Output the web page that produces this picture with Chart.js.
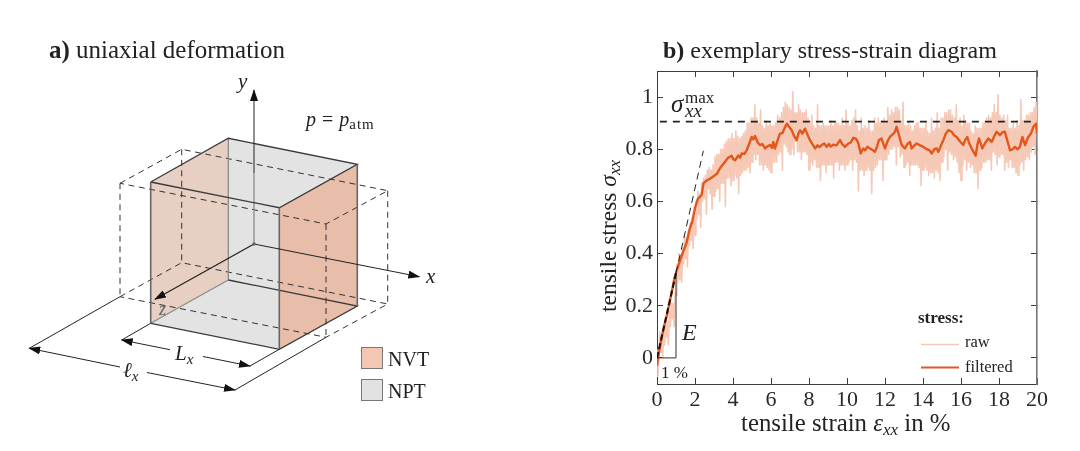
<!DOCTYPE html>
<html>
<head>
<meta charset="utf-8">
<title>Uniaxial deformation and stress-strain diagram</title>
<script src="https://cdn.jsdelivr.net/npm/chart.js@4"></script>
<style>
  html, body { margin: 0; padding: 0; background: #fff; }
  #wrap { position: relative; width: 1080px; height: 451px; overflow: hidden; }
  #stressChart, #overlay { position: absolute; left: 0; top: 0; }
  #overlay { font-family: "Liberation Serif", serif; fill: #222; }
</style>
</head>
<body>
<div id="wrap">
  <canvas id="stressChart" width="1080" height="451"></canvas>
  <svg id="overlay" width="1080" height="451" viewBox="0 0 1080 451">
    <defs>
      <marker id="head" markerWidth="12" markerHeight="8" refX="11" refY="4" orient="auto" markerUnits="userSpaceOnUse">
        <path d="M0,0 L12,4 L0,8 Z" fill="#111"/>
      </marker>
      <marker id="tail" markerWidth="12" markerHeight="8" refX="1" refY="4" orient="auto" markerUnits="userSpaceOnUse">
        <path d="M12,0 L0,4 L12,8 Z" fill="#111"/>
      </marker>
    </defs>

    <!-- panel a: schematic of the box -->
    <text x="49" y="58" font-size="25"><tspan font-weight="bold">a)</tspan> uniaxial deformation</text>

    <polygon points="150.7,182 228.3,138.3 228.3,280 150.7,323.3" fill="#e8cfc3"/>
    <polygon points="228.3,138.3 357.3,164.3 279.3,207.7 279.3,349.3 150.7,323.3 228.3,280" fill="#e3e3e3"/>
    <polygon points="357.3,164.3 279.3,207.7 279.3,349.3 357.3,306" fill="#e8bda9"/>

    <g fill="none" stroke="#333" stroke-width="1" stroke-dasharray="6 4.5">
      <path d="M120,183.3 L181.7,149.3 L387.7,190.7 L326,224 Z"/>
      <path d="M120,296.7 L181.7,262.7 L387.7,304 L326,337.3 Z"/>
      <path d="M120,183.3 V296.7 M181.7,149.3 V262.7 M387.7,190.7 V304 M326,224 V337.3"/>
    </g>

    <g fill="none" stroke="#8a8a8a" stroke-width="1.3">
      <path d="M228.3,138.3 V280"/>
      <path d="M254,173 V244"/>
      <path d="M228.3,280 L150.7,323.3"/>
    </g>
    <g fill="none" stroke="#3a3a3a" stroke-width="1.3">
      <path d="M150.7,182 L228.3,138.3 L357.3,164.3 L279.3,207.7 L150.7,182"/>
      <path d="M150.7,323.3 L279.3,349.3 L357.3,306 L228.3,280"/>
    </g>
    <g fill="none" stroke="#666" stroke-width="1.6">
      <path d="M150.7,182 V323.3 M279.3,207.7 V349.3 M357.3,164.3 V306"/>
    </g>

    <g fill="none" stroke="#222" stroke-width="1">
      <path d="M254,173 V90" marker-end="url(#head)"/>
      <path d="M254,244 L419.3,276.7" marker-end="url(#head)"/>
      <path d="M254,244 L155,299.3" marker-end="url(#head)" stroke-width="1.2"/>
      <path d="M120,296.7 L29.3,348.3 M326,337.3 L235,390"/>
      <path d="M150.7,323.3 L121.7,340 M279.3,349.3 L250,366"/>
      <path d="M29.3,348.3 L120,367" marker-start="url(#tail)"/>
      <path d="M147,372.5 L235,390" marker-end="url(#head)"/>
      <path d="M121.7,340 L170,349.7" marker-start="url(#tail)"/>
      <path d="M203,356.5 L250,366" marker-end="url(#head)"/>
    </g>
    <circle cx="254" cy="244" r="1.8" fill="#666"/>

    <text x="238" y="88" font-size="21" font-style="italic">y</text>
    <text x="426" y="283" font-size="21" font-style="italic">x</text>
    <text x="159" y="315" font-size="18" font-style="italic" fill="#666">z</text>
    <text x="175" y="360" font-size="21" font-style="italic">L<tspan font-size="15" dy="4">x</tspan></text>
    <text x="123" y="377" font-size="21" font-style="italic">ℓ<tspan font-size="15" dy="4">x</tspan></text>
    <text x="306" y="126" font-size="20"><tspan font-style="italic">p</tspan><tspan dx="6">=</tspan><tspan dx="6" font-style="italic">p</tspan><tspan font-size="15" dy="3" letter-spacing="1">atm</tspan></text>

    <rect x="361.5" y="347.5" width="21" height="21" fill="#f4c7b2" stroke="#777"/>
    <rect x="361.5" y="379.5" width="21" height="21" fill="#e2e2e2" stroke="#777"/>
    <text x="388" y="366" font-size="20">NVT</text>
    <text x="388" y="398" font-size="20">NPT</text>

    <!-- panel b: text around the chart -->
    <text x="663" y="58" font-size="24"><tspan font-weight="bold">b)</tspan> exemplary stress-strain diagram</text>
    <text x="741" y="431" font-size="24.8">tensile strain <tspan font-style="italic">ε</tspan><tspan font-style="italic" font-size="17" dy="4">xx</tspan><tspan dy="-4"> in %</tspan></text>
    <text transform="translate(616,312) rotate(-90)" font-size="23.5">tensile stress <tspan font-style="italic">σ</tspan><tspan font-style="italic" font-size="17" dy="4">xx</tspan></text>
    <text x="671" y="112" font-size="25" font-style="italic">σ</text>
    <text x="685" y="103" font-size="17">max</text>
    <text x="685" y="117" font-size="19" font-style="italic">xx</text>
    <text x="682" y="340" font-size="24" font-style="italic">E</text>
    <text x="661" y="378" font-size="17">1 %</text>

    <text x="918" y="323" font-size="17" font-weight="bold">stress:</text>
    <path d="M921,344.5 H959" stroke="#f6c8b6" stroke-width="1.5"/>
    <path d="M921,367.5 H959" stroke="#e2571c" stroke-width="2"/>
    <text x="965" y="347" font-size="16.5">raw</text>
    <text x="965" y="372" font-size="16.5">filtered</text>
  </svg>
</div>

<script>
// values
const strainTicks = [0, 2, 4, 6, 8, 10, 12, 14, 16, 18, 20];
const stressTicks = [0, 0.2, 0.4, 0.6, 0.8, 1];

const rawStrain = [
  0, 0.05, 0.1, 0.15, 0.2, 0.25, 0.3, 0.35, 0.4, 0.45, 0.5, 0.55, 0.6, 0.65, 0.7, 0.75, 0.8, 0.85, 0.9, 0.95,
  1, 1.05, 1.1, 1.15, 1.2, 1.25, 1.3, 1.35, 1.4, 1.45, 1.5, 1.55, 1.6, 1.65, 1.7, 1.75, 1.8, 1.85, 1.9, 1.95,
  2, 2.05, 2.1, 2.15, 2.2, 2.25, 2.3, 2.35, 2.4, 2.45, 2.5, 2.55, 2.6, 2.65, 2.7, 2.75, 2.8, 2.85, 2.9, 2.95,
  3, 3.05, 3.1, 3.15, 3.2, 3.25, 3.3, 3.35, 3.4, 3.45, 3.5, 3.55, 3.6, 3.65, 3.7, 3.75, 3.8, 3.85, 3.9, 3.95,
  4, 4.05, 4.1, 4.15, 4.2, 4.25, 4.3, 4.35, 4.4, 4.45, 4.5, 4.55, 4.6, 4.65, 4.7, 4.75, 4.8, 4.85, 4.9, 4.95,
  5, 5.05, 5.1, 5.15, 5.2, 5.25, 5.3, 5.35, 5.4, 5.45, 5.5, 5.55, 5.6, 5.65, 5.7, 5.75, 5.8, 5.85, 5.9, 5.95,
  6, 6.05, 6.1, 6.15, 6.2, 6.25, 6.3, 6.35, 6.4, 6.45, 6.5, 6.55, 6.6, 6.65, 6.7, 6.75, 6.8, 6.85, 6.9, 6.95,
  7, 7.05, 7.1, 7.15, 7.2, 7.25, 7.3, 7.35, 7.4, 7.45, 7.5, 7.55, 7.6, 7.65, 7.7, 7.75, 7.8, 7.85, 7.9, 7.95,
  8, 8.05, 8.1, 8.15, 8.2, 8.25, 8.3, 8.35, 8.4, 8.45, 8.5, 8.55, 8.6, 8.65, 8.7, 8.75, 8.8, 8.85, 8.9, 8.95,
  9, 9.05, 9.1, 9.15, 9.2, 9.25, 9.3, 9.35, 9.4, 9.45, 9.5, 9.55, 9.6, 9.65, 9.7, 9.75, 9.8, 9.85, 9.9, 9.95,
  10, 10.05, 10.1, 10.15, 10.2, 10.25, 10.3, 10.35, 10.4, 10.45, 10.5, 10.55, 10.6, 10.65, 10.7, 10.75, 10.8, 10.85, 10.9, 10.95,
  11, 11.05, 11.1, 11.15, 11.2, 11.25, 11.3, 11.35, 11.4, 11.45, 11.5, 11.55, 11.6, 11.65, 11.7, 11.75, 11.8, 11.85, 11.9, 11.95,
  12, 12.05, 12.1, 12.15, 12.2, 12.25, 12.3, 12.35, 12.4, 12.45, 12.5, 12.55, 12.6, 12.65, 12.7, 12.75, 12.8, 12.85, 12.9, 12.95,
  13, 13.05, 13.1, 13.15, 13.2, 13.25, 13.3, 13.35, 13.4, 13.45, 13.5, 13.55, 13.6, 13.65, 13.7, 13.75, 13.8, 13.85, 13.9, 13.95,
  14, 14.05, 14.1, 14.15, 14.2, 14.25, 14.3, 14.35, 14.4, 14.45, 14.5, 14.55, 14.6, 14.65, 14.7, 14.75, 14.8, 14.85, 14.9, 14.95,
  15, 15.05, 15.1, 15.15, 15.2, 15.25, 15.3, 15.35, 15.4, 15.45, 15.5, 15.55, 15.6, 15.65, 15.7, 15.75, 15.8, 15.85, 15.9, 15.95,
  16, 16.05, 16.1, 16.15, 16.2, 16.25, 16.3, 16.35, 16.4, 16.45, 16.5, 16.55, 16.6, 16.65, 16.7, 16.75, 16.8, 16.85, 16.9, 16.95,
  17, 17.05, 17.1, 17.15, 17.2, 17.25, 17.3, 17.35, 17.4, 17.45, 17.5, 17.55, 17.6, 17.65, 17.7, 17.75, 17.8, 17.85, 17.9, 17.95,
  18, 18.05, 18.1, 18.15, 18.2, 18.25, 18.3, 18.35, 18.4, 18.45, 18.5, 18.55, 18.6, 18.65, 18.7, 18.75, 18.8, 18.85, 18.9, 18.95,
  19, 19.05, 19.1, 19.15, 19.2, 19.25, 19.3, 19.35, 19.4, 19.45, 19.5, 19.55, 19.6, 19.65, 19.7, 19.75, 19.8, 19.85, 19.9, 19.95,
  20
];
const rawStress = [
  -0.07, 0.03, -0.01, 0.10, 0.02, 0.08, 0.00, 0.11, 0.05, 0.14, 0.08, 0.14, 0.05, 0.18, 0.12, 0.21, 0.15, 0.21, 0.12, 0.25,
  0.24, 0.36, 0.29, 0.40, 0.30, 0.38, 0.29, 0.42, 0.36, 0.47, 0.38, 0.46, 0.35, 0.49, 0.43, 0.52, 0.45, 0.53, 0.42, 0.55,
  0.47, 0.60, 0.53, 0.64, 0.55, 0.63, 0.50, 0.67, 0.60, 0.69, 0.61, 0.70, 0.55, 0.72, 0.65, 0.73, 0.63, 0.72, 0.57, 0.74,
  0.62, 0.77, 0.64, 0.78, 0.65, 0.78, 0.60, 0.80, 0.67, 0.80, 0.67, 0.82, 0.58, 0.83, 0.69, 0.84, 0.69, 0.84, 0.66, 0.86,
  0.68, 0.84, 0.70, 0.87, 0.69, 0.85, 0.63, 0.84, 0.70, 0.85, 0.71, 0.86, 0.72, 0.87, 0.72, 0.90, 0.73, 0.90, 0.71, 0.92,
  0.75, 0.92, 0.78, 0.97, 0.76, 0.92, 0.78, 0.90, 0.74, 0.95, 0.74, 0.89, 0.72, 0.88, 0.74, 0.91, 0.73, 0.89, 0.72, 0.90,
  0.71, 0.89, 0.75, 0.89, 0.75, 0.90, 0.75, 0.93, 0.78, 0.92, 0.79, 0.94, 0.72, 0.96, 0.82, 0.98, 0.81, 0.97, 0.79, 0.96,
  0.78, 0.95, 0.80, 1.02, 0.78, 0.94, 0.83, 0.94, 0.79, 0.97, 0.79, 0.95, 0.76, 0.94, 0.79, 0.94, 0.79, 0.95, 0.78, 0.92,
  0.72, 0.91, 0.75, 0.93, 0.74, 0.89, 0.76, 0.88, 0.73, 0.97, 0.73, 0.89, 0.68, 0.89, 0.74, 0.90, 0.74, 0.89, 0.71, 0.89,
  0.74, 0.89, 0.74, 0.91, 0.74, 0.89, 0.69, 0.90, 0.75, 0.90, 0.75, 0.90, 0.72, 0.89, 0.74, 0.92, 0.74, 0.89, 0.72, 0.95,
  0.74, 0.90, 0.75, 0.89, 0.76, 0.91, 0.72, 0.92, 0.76, 0.95, 0.75, 0.89, 0.64, 0.87, 0.72, 0.92, 0.72, 0.88, 0.70, 0.89,
  0.72, 0.88, 0.73, 0.91, 0.72, 0.87, 0.63, 0.87, 0.72, 0.92, 0.73, 0.90, 0.74, 0.92, 0.76, 0.90, 0.76, 0.91, 0.68, 0.92,
  0.76, 0.90, 0.76, 0.96, 0.78, 0.93, 0.80, 0.95, 0.80, 0.94, 0.81, 0.96, 0.74, 0.96, 0.81, 0.95, 0.77, 0.91, 0.78, 0.98,
  0.73, 0.89, 0.74, 0.89, 0.75, 0.90, 0.70, 0.89, 0.74, 0.87, 0.74, 0.89, 0.74, 0.90, 0.74, 0.90, 0.73, 0.88, 0.66, 0.88,
  0.72, 0.88, 0.73, 0.90, 0.72, 0.87, 0.70, 0.86, 0.71, 0.92, 0.71, 0.87, 0.69, 0.88, 0.72, 0.94, 0.71, 0.88, 0.68, 0.92,
  0.75, 0.92, 0.77, 0.94, 0.80, 0.94, 0.72, 0.95, 0.79, 0.95, 0.78, 0.93, 0.76, 0.92, 0.77, 0.97, 0.75, 0.91, 0.71, 0.92,
  0.68, 0.89, 0.74, 0.93, 0.76, 0.91, 0.72, 0.90, 0.75, 0.90, 0.73, 0.87, 0.74, 0.86, 0.71, 0.89, 0.71, 0.88, 0.65, 0.88,
  0.72, 0.88, 0.73, 0.90, 0.75, 0.90, 0.75, 0.92, 0.76, 0.93, 0.76, 0.92, 0.72, 0.94, 0.79, 0.97, 0.78, 0.94, 0.74, 1.01,
  0.77, 0.93, 0.78, 0.92, 0.78, 0.93, 0.72, 0.91, 0.75, 0.93, 0.73, 0.88, 0.76, 0.88, 0.73, 0.90, 0.73, 0.88, 0.71, 0.91,
  0.70, 0.89, 0.74, 0.99, 0.75, 0.91, 0.72, 0.91, 0.76, 0.93, 0.77, 0.93, 0.76, 0.94, 0.79, 0.94, 0.81, 0.96, 0.78, 0.98,
  0.90
];

const filteredStrain = [
  0, 0.1, 0.25, 0.4, 0.51, 0.65, 0.8, 0.9, 1.03, 1.2, 1.39, 1.55, 1.74, 1.85, 2, 2.15, 2.35, 2.45, 2.61, 2.85,
  3.14, 3.3, 3.45, 3.58, 3.75, 3.93, 4.02, 4.11, 4.28, 4.38, 4.46, 4.6, 4.72, 4.85, 4.98, 5.07, 5.16, 5.3, 5.42, 5.55,
  5.69, 5.82, 5.95, 6.05, 6.12, 6.21, 6.35, 6.47, 6.6, 6.72, 6.83, 6.95, 7.09, 7.22, 7.35, 7.45, 7.53, 7.65, 7.79, 7.92,
  8.05, 8.18, 8.32, 8.45, 8.55, 8.67, 8.8, 8.93, 9.05, 9.15, 9.28, 9.45, 9.63, 9.75, 9.89, 10.07, 10.2, 10.33, 10.48, 10.6,
  10.72, 10.85, 10.95, 11.08, 11.21, 11.35, 11.47, 11.58, 11.68, 11.82, 11.92, 12, 12.13, 12.26, 12.42, 12.52, 12.61, 12.75, 12.88, 13.05,
  13.18, 13.32, 13.4, 13.55, 13.67, 13.85, 14.02, 14.2, 14.33, 14.46, 14.6, 14.72, 14.81, 14.95, 15.07, 15.2, 15.33, 15.51, 15.65, 15.77,
  15.95, 16.12, 16.22, 16.33, 16.45, 16.56, 16.66, 16.77, 16.87, 16.95, 17.05, 17.12, 17.28, 17.44, 17.61, 17.75, 17.88, 18.05, 18.18, 18.31,
  18.45, 18.58, 18.72, 18.84, 18.98, 19.1, 19.23, 19.37, 19.54, 19.68, 19.81, 19.95, 20
];
const filteredStress = [
  -0.03, 0.02, 0.08, 0.13, 0.16, 0.21, 0.26, 0.30, 0.335, 0.37, 0.41, 0.44, 0.50, 0.52, 0.575, 0.61, 0.625, 0.67, 0.68, 0.69,
  0.705, 0.725, 0.74, 0.752, 0.768, 0.775, 0.762, 0.758, 0.776, 0.768, 0.784, 0.782, 0.796, 0.82, 0.847, 0.838, 0.851, 0.826, 0.816, 0.82,
  0.803, 0.812, 0.816, 0.806, 0.828, 0.803, 0.835, 0.86, 0.862, 0.882, 0.898, 0.886, 0.873, 0.85, 0.835, 0.862, 0.873, 0.86, 0.879, 0.856,
  0.835, 0.82, 0.803, 0.815, 0.808, 0.816, 0.822, 0.809, 0.82, 0.81, 0.818, 0.815, 0.835, 0.82, 0.809, 0.822, 0.826, 0.844, 0.84, 0.822,
  0.784, 0.803, 0.796, 0.81, 0.803, 0.797, 0.79, 0.81, 0.835, 0.841, 0.82, 0.803, 0.83, 0.847, 0.858, 0.866, 0.886, 0.85, 0.816, 0.803,
  0.82, 0.828, 0.803, 0.815, 0.822, 0.815, 0.809, 0.80, 0.797, 0.784, 0.80, 0.803, 0.79, 0.815, 0.835, 0.86, 0.873, 0.867, 0.853, 0.847,
  0.83, 0.816, 0.835, 0.847, 0.82, 0.803, 0.79, 0.775, 0.82, 0.841, 0.82, 0.803, 0.825, 0.841, 0.828, 0.85, 0.867, 0.854, 0.865, 0.867,
  0.83, 0.796, 0.80, 0.809, 0.80, 0.809, 0.847, 0.816, 0.847, 0.86, 0.886, 0.898, 0.86
];

const maxStrain = [0.15, 20];
const maxStress = [0.906, 0.906];
const slopeStrain = [0, 1];
const slopeStress = [0, 0.325];
const slopeExtStrain = [1, 2.44];
const slopeExtStress = [0.325, 0.794];
const boxStrain = [0, 1, 1];
const boxStress = [0, 0, 0.325];

const points = (xs, ys) => xs.map((x, i) => ({ x: x, y: ys[i] }));

// the axes fill the fixed space left round the plot area
const fitTo = (prop, size) => (scale) => { scale[prop] = size; };

const axisColor = '#3c3c3c';
const tickFont = { family: '"Liberation Serif", serif', size: 22 };

new Chart(document.getElementById('stressChart').getContext('2d'), {
  type: 'scatter',
  data: {
    datasets: [
      {
        label: 'raw', data: points(rawStrain, rawStress), showLine: true, order: 5,
        borderColor: '#f6c8b6', borderWidth: 1.6, borderJoinStyle: 'round', pointRadius: 0
      },
      {
        label: 'filtered', data: points(filteredStrain, filteredStress), showLine: true, order: 4,
        borderColor: '#e2571c', borderWidth: 2.4, borderJoinStyle: 'round', pointRadius: 0
      },
      {
        label: 'box', data: points(boxStrain, boxStress), showLine: true, order: 3,
        borderColor: '#333', borderWidth: 1, pointRadius: 0
      },
      {
        label: 'slope', data: points(slopeStrain, slopeStress), showLine: true, order: 2,
        borderColor: '#111', borderWidth: 2, borderDash: [6, 3], pointRadius: 0
      },
      {
        label: 'slope ext', data: points(slopeExtStrain, slopeExtStress), showLine: true, order: 2,
        borderColor: '#222', borderWidth: 1, borderDash: [7, 5], pointRadius: 0
      },
      {
        label: 'max', data: points(maxStrain, maxStress), showLine: true, order: 1,
        borderColor: '#222', borderWidth: 1.7, borderDash: [7, 6], pointRadius: 0
      }
    ]
  },
  options: {
    responsive: false,
    animation: false,
    devicePixelRatio: 1,
    layout: { padding: 0 },
    plugins: { legend: { display: false }, tooltip: { enabled: false } },
    scales: {
      x: {
        type: 'linear', position: 'bottom', min: 0, max: 20,
        afterFit: fitTo('height', 67),
        afterBuildTicks: (s) => { s.ticks = strainTicks.map(v => ({ value: v })); },
        grid: { drawOnChartArea: false, tickLength: -6, color: axisColor },
        border: { color: axisColor, width: 1 },
        ticks: { font: tickFont, color: '#2a2a2a', padding: 9, maxRotation: 0, autoSkip: false }
      },
      y: {
        type: 'linear', position: 'left', min: -0.1, max: 1.1,
        afterFit: fitTo('width', 657),
        afterBuildTicks: (s) => { s.ticks = stressTicks.map(v => ({ value: v })); },
        grid: { drawOnChartArea: false, tickLength: -6, color: axisColor },
        border: { color: axisColor, width: 1 },
        ticks: {
          font: tickFont, color: '#2a2a2a', padding: 10, autoSkip: false,
          callback: (v) => (v === 0 || v === 1) ? String(v) : v.toFixed(1)
        }
      },
      xTop: {
        type: 'linear', axis: 'x', position: 'top', min: 0, max: 20,
        afterFit: fitTo('height', 71),
        afterBuildTicks: (s) => { s.ticks = strainTicks.map(v => ({ value: v })); },
        grid: { drawOnChartArea: false, tickLength: -6, color: axisColor },
        border: { color: axisColor, width: 1 },
        ticks: { display: false }
      },
      yRight: {
        type: 'linear', axis: 'y', position: 'right', min: -0.1, max: 1.1,
        afterFit: fitTo('width', 43),
        afterBuildTicks: (s) => { s.ticks = stressTicks.map(v => ({ value: v })); },
        grid: { drawOnChartArea: false, tickLength: -6, color: axisColor },
        border: { color: '#777', width: 1.6 },
        ticks: { display: false }
      }
    }
  }
});
</script>
</body>
</html>
